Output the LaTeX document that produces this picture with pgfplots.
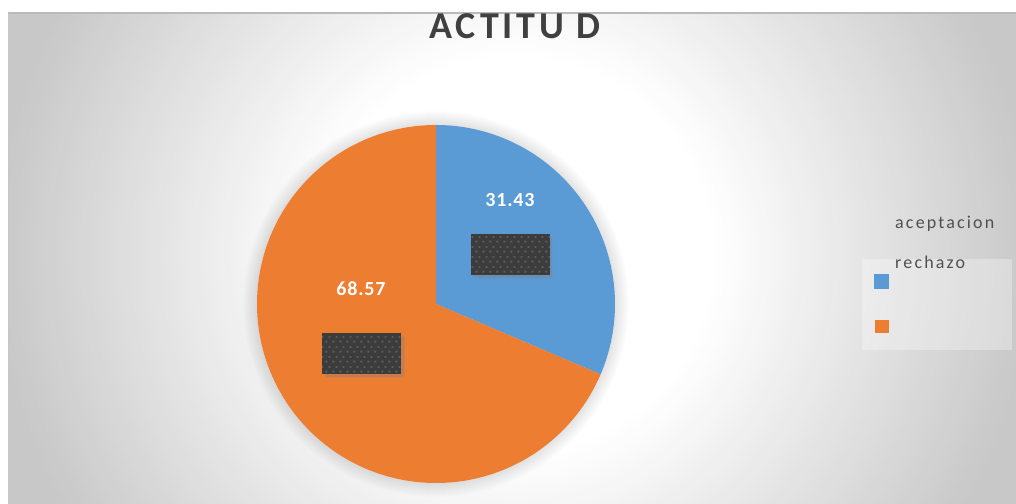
\documentclass[border=0pt]{standalone}
\usepackage{fontspec}
\setmainfont{Carlito}
\usepackage{pgfplots}
\pgfplotsset{compat=1.18}
\usetikzlibrary{patterns.meta,shadows}
\newfontfamily\titlefont[LetterSpace=10]{Carlito}
\newfontfamily\legfont[LetterSpace=12]{Carlito}
\newfontfamily\valfont[LetterSpace=4]{Carlito}
\definecolor{pieblue}{HTML}{5B9BD5}
\definecolor{pieorange}{HTML}{ED7D31}
\definecolor{txt}{HTML}{404040}
\definecolor{legtxt}{HTML}{505050}
\definecolor{boxdark}{HTML}{3C3C3C}
\definecolor{dotcol}{HTML}{5C5C5C}
\definecolor{bgout}{HTML}{C8C8C8}
\tikzdeclarepattern{
  name=stagdots,
  type=uncolored,
  bounding box={(0pt,0pt) and (6.5pt,10pt)},
  tile size={(6.5pt,10pt)},
  code={
    \pgfpathrectangle{\pgfpoint{0.5pt}{0.5pt}}{\pgfpoint{2pt}{2pt}}
    \pgfpathrectangle{\pgfpoint{3.75pt}{5.5pt}}{\pgfpoint{2pt}{2pt}}
    \pgfusepath{fill}
  }
}
\tikzset{labbox/.style={fill=boxdark, minimum width=79pt, minimum height=41pt, inner sep=0,
  drop shadow={shadow xshift=4pt, shadow yshift=-4pt, opacity=0.15},
  drop shadow={shadow xshift=2.5pt, shadow yshift=-2.5pt, opacity=0.25},
  postaction={pattern=stagdots, pattern color=dotcol}}}
\begin{document}
\begin{tikzpicture}[x=1pt,y=1pt]
\useasboundingbox (0,0) rectangle (1016,503);
\fill[white] (0,0) rectangle (1016,503);
\begin{scope}
\clip (8,-3) rectangle (1019,490);
\fill[bgout] (8,-3) rectangle (1019,490);
\foreach \i in {0,...,64} {
  \pgfmathsetmacro{\r}{520-\i*5}
  \pgfmathsetmacro{\p}{100-\i*100/64}
  \fill[bgout!\p!white] (515,248) circle (\r);
}
% soft halo round the pie
\foreach \k in {14,...,1} {
  \fill[black, opacity=0.007] (436,199) circle (179+\k);
}
\end{scope}
\draw[line width=2pt, color=black!27] (8,490) -- (1016,490);
\draw[line width=1pt, color=black!22] (8.5,-1) -- (8.5,490);
% title
\node[anchor=base, text=txt, font=\titlefont\bfseries\fontsize{38}{40}\selectfont] at (515,464) {ACTITU D};
% legend
\fill[white, opacity=0.3] (862,153) rectangle (1012,244);
\fill[pieblue] (874,214) rectangle (889,229);
\fill[pieorange] (875,170) rectangle (889,183);
\node[anchor=base west, inner sep=0, text=legtxt, font=\legfont\fontsize{18}{20}\selectfont] at (895,274) {aceptacion};
\node[anchor=base west, inner sep=0, text=legtxt, font=\legfont\fontsize{18}{20}\selectfont] at (895,234) {rechazo};
\pgfmathsetmacro{\va}{31.43}
\pgfmathsetmacro{\vb}{68.57}
\pgfmathsetmacro{\ang}{90-360*\va/(\va+\vb)}
\begin{axis}[
  at={(436pt,199pt)}, anchor=center,
  x=179pt, y=179pt,
  xmin=-1.2, xmax=1.2, ymin=-1.2, ymax=1.2,
  hide axis, clip=false,
]
\addplot[draw=none, fill=pieblue, domain=\ang:90, samples=150, variable=\t] ({cos(\t)},{sin(\t)}) -- (0,0) -- cycle;
\addplot[draw=none, fill=pieorange, domain=-270:\ang, samples=300, variable=\t] ({cos(\t)},{sin(\t)}) -- (0,0) -- cycle;
\node[text=white, font=\valfont\bfseries\fontsize{20}{22}\selectfont, inner sep=0] at (axis cs:0.413,0.581) {31.43};
\node[text=white, font=\valfont\bfseries\fontsize{20}{22}\selectfont, inner sep=0] at (axis cs:-0.419,0.087) {68.57};
\node[labbox] at (axis cs:0.416,0.274) {};
\node[labbox] at (axis cs:-0.416,-0.277) {};
\end{axis}
\end{tikzpicture}
\end{document}
